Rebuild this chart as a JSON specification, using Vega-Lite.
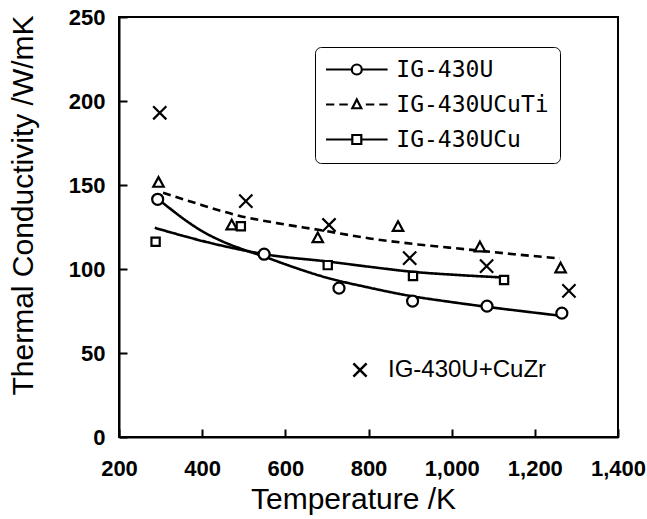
{
  "$schema": "https://vega.github.io/schema/vega-lite/v6.json",
  "width": 499,
  "height": 420,
  "autosize": {"type": "none"},
  "padding": {"left": 119, "top": 17, "right": 29, "bottom": 82},
  "background": "white",
  "config": {
    "view": {"stroke": "black", "strokeWidth": 2},
    "axis": {
      "grid": false,
      "domainColor": "black",
      "domainWidth": 2,
      "tickColor": "black",
      "tickWidth": 2,
      "tickSize": -8,
      "labelColor": "black",
      "labelFont": "Liberation Sans",
      "labelFontWeight": "bold",
      "labelFontSize": 22,
      "labelFlush": false,
      "labelOverlap": false,
      "labelBound": false,
      "titleColor": "black",
      "titleFont": "Liberation Sans",
      "titleFontWeight": "normal",
      "titleFontSize": 30
    }
  },
  "datasets": {
    "points": [
      {"series": "IG-430U", "T": 293, "k": 141.5},
      {"series": "IG-430U", "T": 549, "k": 108.8},
      {"series": "IG-430U", "T": 729, "k": 88.6},
      {"series": "IG-430U", "T": 906, "k": 80.9},
      {"series": "IG-430U", "T": 1085, "k": 77.9},
      {"series": "IG-430U", "T": 1265, "k": 73.7},
      {"series": "IG-430UCuTi", "T": 295, "k": 151.4},
      {"series": "IG-430UCuTi", "T": 471, "k": 126},
      {"series": "IG-430UCuTi", "T": 678, "k": 118.4},
      {"series": "IG-430UCuTi", "T": 871, "k": 125.1},
      {"series": "IG-430UCuTi", "T": 1068, "k": 113},
      {"series": "IG-430UCuTi", "T": 1262, "k": 100.5},
      {"series": "IG-430UCu", "T": 288, "k": 116.2},
      {"series": "IG-430UCu", "T": 493, "k": 125.5},
      {"series": "IG-430UCu", "T": 702, "k": 102.3},
      {"series": "IG-430UCu", "T": 907, "k": 95.8},
      {"series": "IG-430UCu", "T": 1126, "k": 93.4},
      {"series": "IG-430U+CuZr", "T": 298, "k": 193},
      {"series": "IG-430U+CuZr", "T": 505, "k": 140.4},
      {"series": "IG-430U+CuZr", "T": 705, "k": 126.2},
      {"series": "IG-430U+CuZr", "T": 899, "k": 106.5},
      {"series": "IG-430U+CuZr", "T": 1084, "k": 101.7},
      {"series": "IG-430U+CuZr", "T": 1282, "k": 87}
    ],
    "curves": [
      {"series": "IG-430U", "T": 292, "k": 142},
      {"series": "IG-430U", "T": 320, "k": 136.5},
      {"series": "IG-430U", "T": 360, "k": 129},
      {"series": "IG-430U", "T": 400, "k": 122.5},
      {"series": "IG-430U", "T": 450, "k": 116.3},
      {"series": "IG-430U", "T": 500, "k": 111.5},
      {"series": "IG-430U", "T": 550, "k": 107.3},
      {"series": "IG-430U", "T": 600, "k": 102.8},
      {"series": "IG-430U", "T": 700, "k": 94.8},
      {"series": "IG-430U", "T": 800, "k": 89},
      {"series": "IG-430U", "T": 900, "k": 84},
      {"series": "IG-430U", "T": 1000, "k": 80.3},
      {"series": "IG-430U", "T": 1100, "k": 77},
      {"series": "IG-430U", "T": 1200, "k": 74},
      {"series": "IG-430U", "T": 1268, "k": 72},
      {"series": "IG-430UCuTi", "T": 306, "k": 145.4},
      {"series": "IG-430UCuTi", "T": 400, "k": 138},
      {"series": "IG-430UCuTi", "T": 482, "k": 132.1},
      {"series": "IG-430UCuTi", "T": 580, "k": 127.3},
      {"series": "IG-430UCuTi", "T": 683, "k": 123.2},
      {"series": "IG-430UCuTi", "T": 803, "k": 118.2},
      {"series": "IG-430UCuTi", "T": 920, "k": 114.6},
      {"series": "IG-430UCuTi", "T": 1036, "k": 111.7},
      {"series": "IG-430UCuTi", "T": 1150, "k": 108.8},
      {"series": "IG-430UCuTi", "T": 1260, "k": 106.3},
      {"series": "IG-430UCu", "T": 286, "k": 124.5},
      {"series": "IG-430UCu", "T": 442, "k": 114.2},
      {"series": "IG-430UCu", "T": 563, "k": 108.3},
      {"series": "IG-430UCu", "T": 700, "k": 104.5},
      {"series": "IG-430UCu", "T": 803, "k": 101.3},
      {"series": "IG-430UCu", "T": 907, "k": 98.3},
      {"series": "IG-430UCu", "T": 1010, "k": 96.5},
      {"series": "IG-430UCu", "T": 1120, "k": 95}
    ]
  },
  "encoding": {
    "x": {
      "field": "T",
      "type": "quantitative",
      "scale": {"domain": [200, 1400], "nice": false, "zero": false},
      "axis": {
        "values": [200, 400, 600, 800, 1000, 1200, 1400],
        "format": ",d",
        "labelPadding": 29,
        "title": "Temperature /K",
        "titleX": 234,
        "titleY": 47,
        "titleBaseline": "top"
      }
    },
    "y": {
      "field": "k",
      "type": "quantitative",
      "scale": {"domain": [0, 250], "nice": false},
      "axis": {
        "values": [0, 50, 100, 150, 200, 250],
        "labelPadding": 22,
        "title": "Thermal Conductivity /W/mK",
        "titleAngle": 270,
        "titleX": -81,
        "titleY": 188,
        "titleBaseline": "bottom",
        "titleAlign": "center"
      }
    }
  },
  "layer": [
    {
      "data": {"name": "curves"},
      "mark": {"type": "line", "interpolate": "monotone", "color": "black", "strokeWidth": 2.6},
      "encoding": {
        "detail": {"field": "series", "type": "nominal"},
        "strokeDash": {
          "field": "series",
          "type": "nominal",
          "scale": {"domain": ["IG-430U", "IG-430UCuTi", "IG-430UCu"], "range": [[1, 0], [8, 5], [1, 0]]},
          "legend": null
        }
      }
    },
    {
      "data": {"name": "points"},
      "mark": {"type": "point", "filled": true, "fill": "white", "stroke": "black", "strokeWidth": 2.2, "size": 121, "opacity": 1},
      "encoding": {
        "shape": {
          "field": "series",
          "type": "nominal",
          "scale": {
            "domain": ["IG-430U", "IG-430UCuTi", "IG-430UCu", "IG-430U+CuZr"],
            "range": [
              "circle",
              "M0,-1L0.95,0.75L-0.95,0.75Z",
              "M-0.75,-0.75H0.75V0.75H-0.75Z",
              "M-1.2,-1.2L1.2,1.2M-1.2,1.2L1.2,-1.2"
            ]
          },
          "legend": null
        }
      }
    },
    {
      "data": {"name": "points"},
      "transform": [{"filter": "false"}],
      "mark": {"type": "point", "color": "black", "strokeWidth": 2.5, "opacity": 1},
      "encoding": {
        "shape": {
          "field": "series",
          "type": "nominal",
          "scale": {
            "domain": ["IG-430U+CuZr"],
            "range": ["M-1.2,-1.2L1.2,1.2M-1.2,1.2L1.2,-1.2"]
          },
          "legend": {
            "orient": "none",
            "legendX": 229,
            "legendY": 341,
            "title": null,
            "padding": 0,
            "symbolSize": 121,
            "symbolOpacity": 1,
            "symbolStrokeWidth": 2.5,
            "symbolStrokeColor": "black",
            "labelFont": "Liberation Sans",
            "labelFontSize": 24,
            "labelColor": "black",
            "labelOffset": 16,
            "encode": {
              "symbols": {"strokeWidth": {"value": 2.5}}
            }
          }
        }
      }
    },
    {
      "data": {"name": "points"},
      "transform": [{"filter": "false"}],
      "mark": {"type": "point", "color": "black", "strokeWidth": 2, "opacity": 1},
      "encoding": {
        "shape": {
          "field": "series",
          "type": "nominal",
          "scale": {
            "domain": ["IG-430U", "IG-430UCuTi", "IG-430UCu"],
            "range": [
              "M-6.16,0H-1M1,0H6.16M1,0A1,1 0 1,1 -1,0A1,1 0 1,1 1,0Z",
              "M-6.16,0H-4.5M-3.5,0H-1.8M1.8,0H3.5M4.5,0H6.16M0,-1L0.9,0.75L-0.9,0.75Z",
              "M-6.16,0H-0.9M0.9,0H6.16M-0.9,-0.9H0.9V0.9H-0.9Z"
            ]
          },
          "legend": {
            "orient": "none",
            "legendX": 196,
            "legendY": 30,
            "title": null,
            "padding": 11,
            "strokeColor": "black",
            "cornerRadius": 6,
            "fillColor": "white",
            "rowPadding": 11,
            "symbolSize": 100,
            "symbolOpacity": 1,
            "symbolOffset": 19.3,
            "symbolStrokeWidth": 2.2,
            "symbolStrokeColor": "black",
            "labelFont": "DejaVu Sans Mono",
            "labelFontSize": 23,
            "labelColor": "black",
            "labelOffset": 28,
            "encode": {
              "legend": {"strokeWidth": {"value": 2}},
              "symbols": {"strokeWidth": {"value": 2.2}}
            }
          }
        }
      }
    }
  ],
  "resolve": {"scale": {"shape": "independent"}, "legend": {"shape": "independent"}}
}
